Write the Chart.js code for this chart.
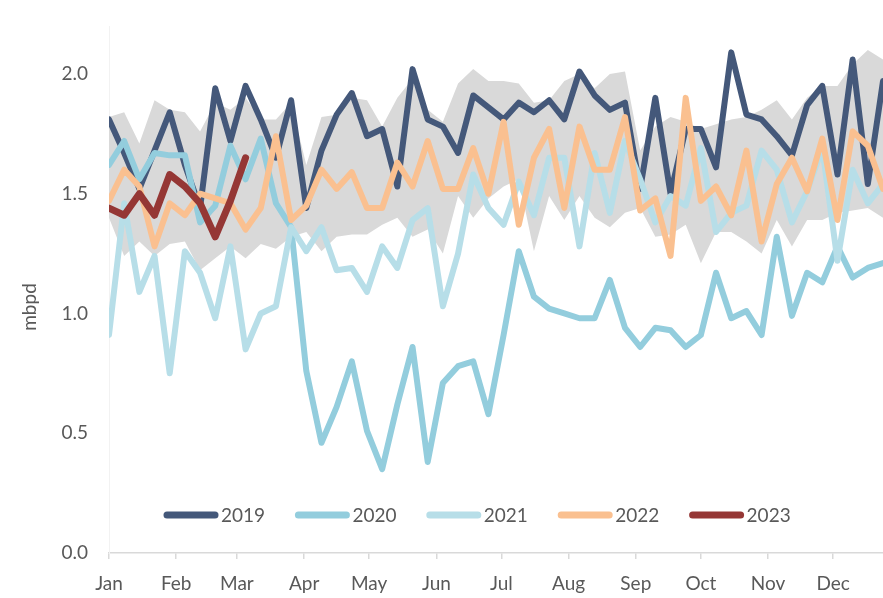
<!DOCTYPE html>
<html>
<head>
<meta charset="utf-8">
<script src="https://cdn.jsdelivr.net/npm/chart.js@4.4.1/dist/chart.umd.min.js"></script>
<style>
    html, body { margin: 0; padding: 0; background: #fff; }
    canvas { display: block; }
</style>
</head>
<body>
<canvas id="myLineChart" width="883" height="598"></canvas>
<script>
// -------------------------------------------------------------------------- Data

const years = ['2019', '2020', '2021', '2022', '2023']

const months = ['Jan', 'Feb', 'Mar', 'Apr', 'May', 'Jun', 'Jul', 'Aug', 'Sep', 'Oct', 'Nov', 'Dec']
// day of year on which each month starts
const monthStartDays = [0, 31, 59, 90, 120, 151, 181, 212, 243, 273, 304, 334]

const yTicks = [0, 0.5, 1, 1.5, 2]

const y2019 = [1.81, 1.67, 1.52, 1.68, 1.84, 1.62, 1.44, 1.94, 1.72, 1.95, 1.81, 1.65, 1.89,
    1.44, 1.68, 1.83, 1.92, 1.74, 1.77, 1.53, 2.02, 1.81, 1.78, 1.67, 1.91, 1.86,
    1.81, 1.88, 1.84, 1.89, 1.81, 2.01, 1.91, 1.85, 1.88, 1.52, 1.90, 1.50, 1.77,
    1.77, 1.61, 2.09, 1.83, 1.81, 1.74, 1.66, 1.87, 1.95, 1.58, 2.06, 1.54, 1.97]

const y2020 = [1.62, 1.72, 1.56, 1.67, 1.66, 1.66, 1.38, 1.45, 1.70, 1.56, 1.73, 1.46, 1.36,
    0.76, 0.46, 0.61, 0.80, 0.51, 0.35, 0.62, 0.86, 0.38, 0.71, 0.78, 0.80, 0.58,
    0.91, 1.26, 1.07, 1.02, 1.00, 0.98, 0.98, 1.14, 0.94, 0.86, 0.94, 0.93, 0.86,
    0.91, 1.17, 0.98, 1.01, 0.91, 1.32, 0.99, 1.17, 1.13, 1.28, 1.15, 1.19, 1.21]

const y2021 = [0.91, 1.46, 1.09, 1.24, 0.75, 1.26, 1.17, 0.98, 1.28, 0.85, 1.00, 1.03, 1.36,
    1.26, 1.36, 1.18, 1.19, 1.09, 1.28, 1.19, 1.39, 1.44, 1.03, 1.25, 1.58, 1.44,
    1.37, 1.55, 1.41, 1.65, 1.65, 1.28, 1.67, 1.42, 1.72, 1.56, 1.38, 1.49, 1.45,
    1.69, 1.34, 1.42, 1.45, 1.68, 1.60, 1.38, 1.51, 1.69, 1.22, 1.60, 1.46, 1.54]

const y2022 = [1.47, 1.60, 1.53, 1.28, 1.46, 1.41, 1.50, 1.48, 1.46, 1.35, 1.44, 1.74, 1.39,
    1.45, 1.60, 1.52, 1.59, 1.44, 1.44, 1.63, 1.53, 1.72, 1.52, 1.52, 1.69, 1.50,
    1.80, 1.37, 1.65, 1.77, 1.44, 1.78, 1.60, 1.60, 1.82, 1.43, 1.48, 1.24, 1.90,
    1.47, 1.53, 1.41, 1.68, 1.30, 1.54, 1.65, 1.51, 1.73, 1.39, 1.76, 1.70, 1.52]

const y2023 = [1.44, 1.41, 1.50, 1.41, 1.58, 1.53, 1.46, 1.32, 1.47, 1.65]

// grey range band
const rangeHigh = [1.82, 1.84, 1.71, 1.89, 1.85, 1.84, 1.76, 1.88, 1.85, 1.90, 1.81, 1.81, 1.88,
    1.62, 1.82, 1.83, 1.90, 1.89, 1.78, 1.90, 1.98, 1.85, 1.80, 1.96, 2.02, 1.97,
    1.97, 1.96, 1.88, 1.89, 1.97, 2.00, 1.94, 2.00, 2.01, 1.68, 1.78, 1.82, 1.80,
    1.77, 1.79, 1.81, 1.82, 1.85, 1.89, 1.81, 1.90, 1.95, 1.95, 2.04, 2.10, 2.06]

const rangeLow = [1.40, 1.24, 1.30, 1.24, 1.29, 1.30, 1.18, 1.23, 1.28, 1.23, 1.29, 1.27, 1.32,
    1.34, 1.26, 1.32, 1.33, 1.33, 1.37, 1.40, 1.32, 1.35, 1.25, 1.49, 1.40, 1.48,
    1.53, 1.56, 1.26, 1.49, 1.39, 1.49, 1.40, 1.36, 1.42, 1.44, 1.32, 1.33, 1.37,
    1.21, 1.34, 1.34, 1.30, 1.25, 1.39, 1.28, 1.39, 1.39, 1.42, 1.43, 1.44, 1.40]

// -------------------------------------------------------------------------- Styles

const textColor = '#595959'
const fontFamily = 'Lato'
const yearColors = {
    '2019': '#44587a',
    '2020': '#93cddd',
    '2021': '#b7dee8',
    '2022': '#fac090',
    '2023': '#953735'
}
const yearWidths = { '2019': 6, '2020': 6, '2021': 6, '2022': 6, '2023': 7 }

// week index as x
const toPoints = arr => arr.map((v, i) => ({ x: i, y: v }))

const lineSet = (year, values) => ({
    label: year,
    data: toPoints(values),
    borderColor: yearColors[year],
    backgroundColor: yearColors[year],
    borderWidth: yearWidths[year],
    borderJoinStyle: 'round',
    borderCapStyle: 'round',
    pointRadius: 0,
    tension: 0,
    fill: false
})

// -------------------------------------------------------------------------- Legend + axis title

const yearLegend = {
    id: 'yearLegend',
    afterDraw(chart) {
        const ctx = chart.ctx
        const area = chart.chartArea
        ctx.save()

        // y axis title
        ctx.font = '19px ' + fontFamily
        ctx.fillStyle = textColor
        ctx.textAlign = 'center'
        ctx.textBaseline = 'middle'
        ctx.translate(30, area.bottom - 246)
        ctx.rotate(-Math.PI / 2)
        ctx.fillText('mbpd', 0, 0)
        ctx.setTransform(1, 0, 0, 1, 0, 0)

        // legend
        const y = area.bottom - 38
        let x = area.left + 58
        ctx.textAlign = 'left'
        ctx.lineCap = 'round'
        years.forEach(year => {
            ctx.strokeStyle = yearColors[year]
            ctx.lineWidth = 7
            ctx.beginPath()
            ctx.moveTo(x, y)
            ctx.lineTo(x + 48, y)
            ctx.stroke()
            ctx.fillText(year, x + 54, y + 1)
            x += 131.4
        })
        ctx.restore()
    }
}

// -------------------------------------------------------------------------- Chart Config

const configLineChart = {
    type: 'line',
    data: {
        datasets: [
            lineSet('2023', y2023),
            lineSet('2022', y2022),
            lineSet('2021', y2021),
            lineSet('2020', y2020),
            lineSet('2019', y2019),
            {
                label: 'range high',
                data: toPoints(rangeHigh),
                borderWidth: 0,
                pointRadius: 0,
                backgroundColor: '#d9d9d9',
                fill: '+1'
            },
            {
                label: 'range low',
                data: toPoints(rangeLow),
                borderWidth: 0,
                pointRadius: 0,
                fill: false
            }
        ]
    },
    options: {
        responsive: false,
        animation: false,
        devicePixelRatio: 1,
        events: [],
        layout: {
            padding: { top: 26, right: 0, bottom: 0, left: 0 }
        },
        plugins: {
            legend: { display: false },
            tooltip: { enabled: false }
        },
        scales: {
            x: {
                type: 'linear',
                min: 0,
                max: y2019.length - 1,
                afterBuildTicks: scale => {
                    scale.ticks = monthStartDays.map(d => ({ value: d / 7 }))
                },
                afterFit: scale => {
                    scale.height = 45
                },
                ticks: {
                    autoSkip: false,
                    maxRotation: 0,
                    padding: 13,
                    color: textColor,
                    font: { family: fontFamily, size: 19 },
                    callback: (value, index) => months[index]
                },
                grid: {
                    drawOnChartArea: false,
                    drawTicks: true,
                    tickLength: 6,
                    color: '#d9d9d9',
                    lineWidth: 1.5
                },
                border: { color: '#d9d9d9', width: 1.5 }
            },
            y: {
                min: 0,
                max: 2.2,
                afterBuildTicks: scale => {
                    scale.ticks = yTicks.map(v => ({ value: v }))
                },
                afterFit: scale => {
                    scale.width = 109
                },
                ticks: {
                    padding: 0,
                    color: textColor,
                    font: { family: fontFamily, size: 19 },
                    callback: value => value.toFixed(1)
                },
                // invisible tick marks keep the labels away from the axis
                grid: {
                    drawOnChartArea: false,
                    drawTicks: true,
                    tickLength: 21,
                    color: 'rgba(0, 0, 0, 0)'
                },
                border: { color: '#f2f2f2', width: 1 }
            }
        }
    },
    plugins: [yearLegend]
}

// -------------------------------------------------------------------------- Render Chart
let myLineChart = new Chart(
    document.getElementById('myLineChart'),
    configLineChart
)
</script>
</body>
</html>
